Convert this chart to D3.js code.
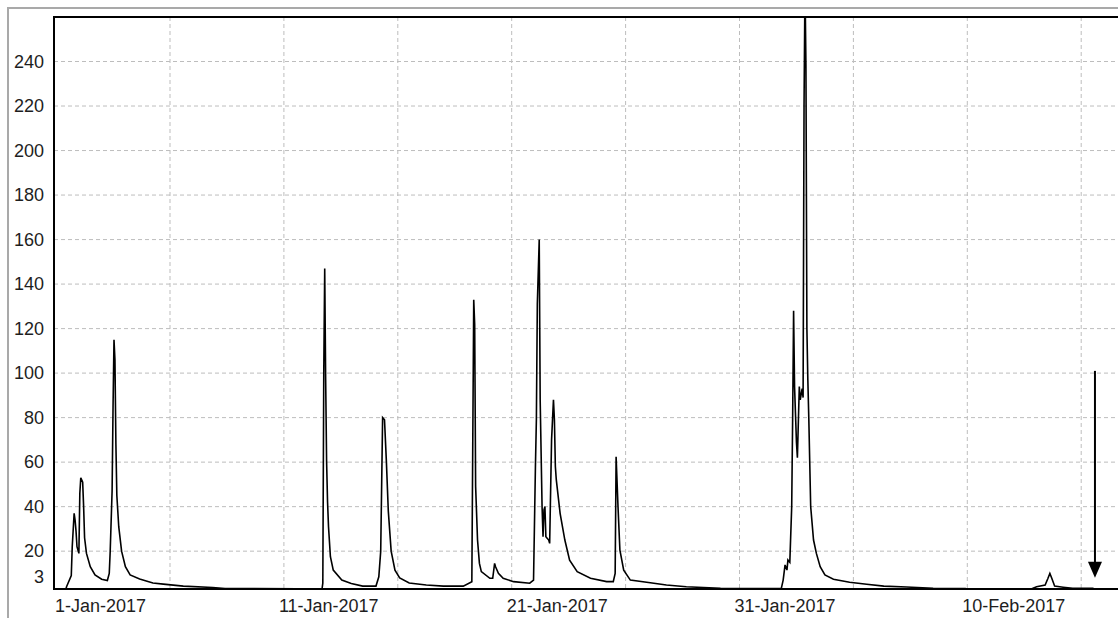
<!DOCTYPE html>
<html>
<head>
  <meta charset="utf-8">
  <style>
    body { margin: 0; background: #fff; }
    svg { display: block; font-family: "Liberation Sans", Arial, sans-serif; }
    .grid line { stroke: #bdbdbd; stroke-width: 1; stroke-dasharray: 4,3; }
    .flow { fill: none; stroke: #000; stroke-width: 1.6; stroke-linejoin: miter; }
    .frame { stroke: #000; stroke-width: 2; }
    .lbl { font-size: 18px; fill: #1e1e1e; }
  </style>
</head>
<body>
<script src="https://d3js.org/d3.v7.min.js"></script>
<svg width="1118" height="618"></svg>
<script>
/* hourly flow readings */
var times = [
  "2016-12-31 22:00","2017-01-01 10:00","2017-01-01 11:00","2017-01-01 16:00","2017-01-01 17:00",
  "2017-01-01 19:00","2017-01-01 20:00","2017-01-01 21:00","2017-01-01 22:00","2017-01-02 00:00",
  "2017-01-02 01:00","2017-01-02 02:00","2017-01-02 04:00","2017-01-02 05:00","2017-01-02 06:00",
  "2017-01-02 08:00","2017-01-02 12:00","2017-01-02 17:00","2017-01-03 00:00","2017-01-03 06:00",
  "2017-01-03 08:00","2017-01-03 09:00","2017-01-03 11:00","2017-01-03 12:00","2017-01-03 13:00",
  "2017-01-03 14:00","2017-01-03 15:00","2017-01-03 16:00","2017-01-03 18:00","2017-01-03 21:00",
  "2017-01-04 01:00","2017-01-04 06:00","2017-01-04 16:00","2017-01-05 06:00","2017-01-05 17:00",
  "2017-01-06 14:00","2017-01-07 21:00","2017-01-08 10:00","2017-01-11 14:00","2017-01-11 16:00",
  "2017-01-12 16:00","2017-01-12 17:00","2017-01-12 18:00","2017-01-12 19:00","2017-01-12 20:00",
  "2017-01-12 21:00","2017-01-12 22:00","2017-01-12 23:00","2017-01-13 01:00","2017-01-13 04:00",
  "2017-01-13 13:00","2017-01-13 23:00","2017-01-14 11:00","2017-01-15 01:00","2017-01-15 04:00",
  "2017-01-15 06:00","2017-01-15 08:00","2017-01-15 10:00","2017-01-15 12:00","2017-01-15 14:00",
  "2017-01-15 17:00","2017-01-15 21:00","2017-01-16 02:00","2017-01-16 12:00","2017-01-17 06:00",
  "2017-01-18 00:00","2017-01-18 21:00","2017-01-19 06:00","2017-01-19 08:00","2017-01-19 09:00",
  "2017-01-19 10:00","2017-01-19 12:00","2017-01-19 14:00","2017-01-19 16:00","2017-01-20 01:00",
  "2017-01-20 04:00","2017-01-20 06:00","2017-01-20 07:00","2017-01-20 10:00","2017-01-20 15:00",
  "2017-01-21 02:00","2017-01-21 19:00","2017-01-21 23:00","2017-01-22 01:00","2017-01-22 02:00",
  "2017-01-22 03:00","2017-01-22 05:00","2017-01-22 06:00","2017-01-22 08:00","2017-01-22 09:00",
  "2017-01-22 10:00","2017-01-22 11:00","2017-01-22 12:00","2017-01-22 15:00","2017-01-22 16:00",
  "2017-01-22 18:00","2017-01-22 20:00","2017-01-22 21:00","2017-01-22 22:00","2017-01-22 23:00",
  "2017-01-23 03:00","2017-01-23 08:00","2017-01-23 13:00","2017-01-23 21:00","2017-01-24 11:00",
  "2017-01-25 04:00","2017-01-25 11:00","2017-01-25 13:00","2017-01-25 14:00","2017-01-25 16:00",
  "2017-01-25 18:00","2017-01-25 22:00","2017-01-26 05:00","2017-01-27 02:00","2017-01-27 19:00",
  "2017-01-28 16:00","2017-01-30 04:00","2017-02-01 20:00","2017-02-01 22:00","2017-02-02 00:00",
  "2017-02-02 02:00","2017-02-02 03:00","2017-02-02 05:00","2017-02-02 07:00","2017-02-02 08:00",
  "2017-02-02 09:00","2017-02-02 10:00","2017-02-02 12:00","2017-02-02 13:00","2017-02-02 15:00",
  "2017-02-02 16:00","2017-02-02 18:00","2017-02-02 19:00","2017-02-02 20:00","2017-02-02 21:00",
  "2017-02-02 22:00","2017-02-02 23:00","2017-02-03 00:00","2017-02-03 01:00","2017-02-03 03:00",
  "2017-02-03 06:00","2017-02-03 09:00","2017-02-03 13:00","2017-02-03 18:00","2017-02-04 03:00",
  "2017-02-04 20:00","2017-02-05 14:00","2017-02-06 08:00","2017-02-07 08:00","2017-02-08 12:00",
  "2017-02-09 22:00","2017-02-10 02:00","2017-02-12 20:00","2017-02-13 01:00","2017-02-13 10:00",
  "2017-02-13 13:00","2017-02-13 15:00","2017-02-13 17:00","2017-02-13 20:00","2017-02-14 05:00",
  "2017-02-14 15:00","2017-02-15 13:00"
];
var flows = [
  2.5, 2.5, 4, 9, 22,
  37, 34, 29, 22, 19,
  46, 53, 51, 40, 26,
  19, 13, 9.3, 7.4, 6.8,
  10, 20, 47, 85, 115,
  106, 68, 45, 31, 20,
  13, 9.3, 7.5, 5.7, 5.2,
  4.3, 3.7, 3.2, 3.1, 2.5,
  2.5, 5.6, 100, 147, 97,
  60, 42, 31, 17.5, 11.5,
  7, 5.5, 4.3, 4.3, 8.5,
  20, 80, 79, 60, 38,
  20, 11.5, 8, 5.7, 4.8,
  4.3, 4.3, 6.3, 133, 122,
  49, 25, 14.5, 10.8, 7.8,
  7.8, 14.5, 13, 10, 7.8,
  6.3, 5.6, 7, 58, 79,
  131, 160, 88, 40, 26.5,
  38.5, 40, 26.5, 25, 23.5,
  70, 88, 79, 58, 52,
  37, 25, 16, 10.8, 7.8,
  6.3, 6.3, 10, 62.4, 40,
  20.5, 11.5, 7, 5.8, 4.8,
  4, 3.3, 3.2, 7, 13.8,
  11.5, 16, 15, 40, 80,
  128, 94, 69, 62, 94,
  88, 93, 89, 220, 275,
  238, 120, 97, 80, 40,
  25, 19, 13, 9.3, 7.4,
  6, 5.1, 4.3, 3.9, 3.3,
  3.2, 2.5, 3.1, 4, 4.8,
  7.8, 10, 7.8, 4.3, 3.8,
  3.3, 3.3
];

var yTicks = [3, 20, 40, 60, 80, 100, 120, 140, 160, 180, 200, 220, 240];
var xLabels = ["2017-01-01", "2017-01-11", "2017-01-21", "2017-01-31", "2017-02-10"];
var gridDays = ["2017-01-06", "2017-01-11", "2017-01-16", "2017-01-21", "2017-01-26",
                "2017-01-31", "2017-02-05", "2017-02-10", "2017-02-15"];

/* downward arrow marker */
var arrowTime = "2017-02-15 14:30";
var arrowFrom = 101;
var arrowTo = 8;

var svg = d3.select("svg");
var plotL = 54, plotT = 17, plotR = 1118, plotB = 589;

var parseTime = d3.timeParse("%Y-%m-%d %H:%M");
var parseDay = d3.timeParse("%Y-%m-%d");
var fmt = d3.timeFormat("%-d-%b-%Y");

var data = times.map(function(t, i) { return { t: parseTime(t), v: flows[i] }; });

/* 1-Jan .. 10-Feb mapped to measured pixel positions, extrapolated beyond */
var x = d3.scaleTime()
    .domain([parseDay("2017-01-01"), parseDay("2017-02-10")])
    .range([56.1, 967.3]);
var y = d3.scaleLinear().domain([3, 260]).range([plotB, plotT]);

/* outer panel border */
svg.append("rect")
    .attr("x", 8).attr("y", 8).attr("width", 1300).attr("height", 800)
    .attr("fill", "none").attr("stroke", "#a9a9a9").attr("stroke-width", 2);

svg.append("clipPath").attr("id", "plot")
  .append("rect").attr("x", plotL).attr("y", plotT)
    .attr("width", plotR - plotL).attr("height", plotB - plotT);

var grid = svg.append("g").attr("class", "grid");
grid.selectAll(".h").data(yTicks.filter(function(d) { return d > 3; }))
  .enter().append("line")
    .attr("x1", plotL).attr("x2", plotR)
    .attr("y1", function(d) { return y(d); }).attr("y2", function(d) { return y(d); });
grid.selectAll(".v").data(gridDays)
  .enter().append("line")
    .attr("x1", function(d) { return x(parseDay(d)); })
    .attr("x2", function(d) { return x(parseDay(d)); })
    .attr("y1", plotT).attr("y2", plotB);

var line = d3.line()
    .x(function(d) { return x(d.t); })
    .y(function(d) { return y(d.v); });

svg.append("path")
    .datum(data)
    .attr("class", "flow")
    .attr("clip-path", "url(#plot)")
    .attr("d", line);

/* plot frame: left, top, bottom */
svg.append("line").attr("class", "frame").attr("x1", plotL).attr("x2", plotL).attr("y1", plotT - 1).attr("y2", plotB + 1);
svg.append("line").attr("class", "frame").attr("x1", plotL).attr("x2", plotR).attr("y1", plotT).attr("y2", plotT);
svg.append("line").attr("class", "frame").attr("x1", plotL).attr("x2", plotR).attr("y1", plotB).attr("y2", plotB);

/* y labels, lowest one lifted above the axis line */
svg.selectAll(".ylab").data(yTicks)
  .enter().append("text")
    .attr("class", "lbl")
    .attr("text-anchor", "end")
    .attr("x", 44)
    .attr("y", function(d) { return Math.min(y(d), plotB - 12); })
    .attr("dy", "0.35em")
    .text(function(d) { return d; });

svg.selectAll(".xlab").data(xLabels)
  .enter().append("text")
    .attr("class", "lbl")
    .attr("x", function(d) { return Math.max(55, x(parseDay(d)) - 5); })
    .attr("y", 612)
    .text(function(d) { return fmt(parseDay(d)); });

/* arrow */
var ax = x(parseTime(arrowTime));
svg.append("line")
    .attr("x1", ax).attr("x2", ax)
    .attr("y1", y(arrowFrom)).attr("y2", y(arrowTo) - 14)
    .attr("stroke", "#000").attr("stroke-width", 2);
svg.append("path")
    .attr("d", "M" + (ax - 7) + "," + (y(arrowTo) - 16) + "L" + (ax + 7) + "," + (y(arrowTo) - 16) + "L" + ax + "," + y(arrowTo) + "Z")
    .attr("fill", "#000");
</script>
</body>
</html>
